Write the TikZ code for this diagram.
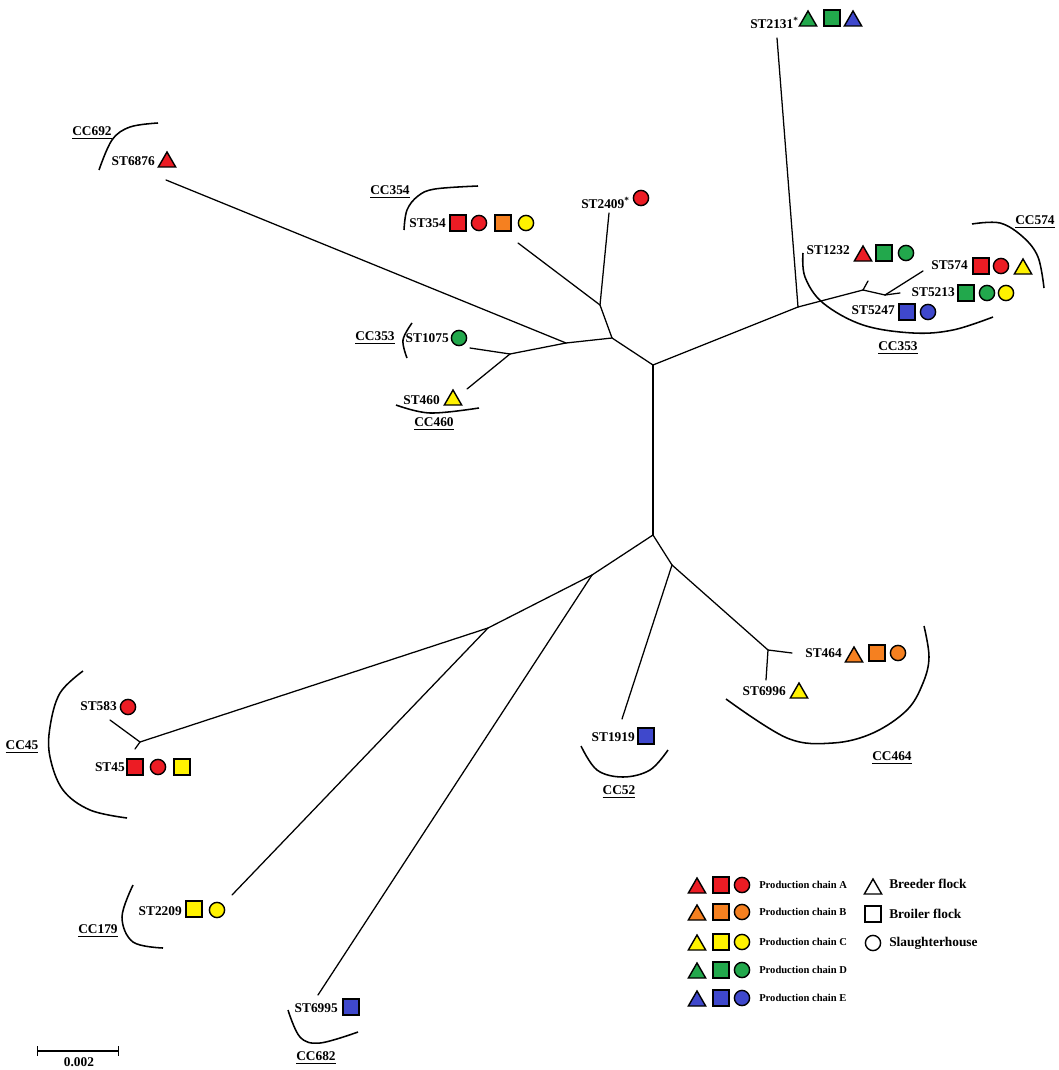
\documentclass[tikz,border=0pt]{standalone}
\usepackage{fontspec}
\setmainfont{Liberation Serif}
\usepackage{tkz-euclide}
\usetikzlibrary{shapes.geometric}
\definecolor{ChainA}{RGB}{236,28,36}
\definecolor{ChainB}{RGB}{245,128,32}
\definecolor{ChainC}{RGB}{255,242,0}
\definecolor{ChainD}{RGB}{34,168,76}
\definecolor{ChainE}{RGB}{63,72,204}
\tikzset{
  stlabel/.style={font=\fontsize{9.5}{11}\selectfont\bfseries,inner sep=0pt,anchor=east},
  cclabel/.style={font=\fontsize{9.5}{11}\selectfont\bfseries,inner sep=0pt},
  legtext/.style={font=\fontsize{7.5}{9}\selectfont\bfseries,inner sep=0pt,anchor=west},
  keytext/.style={font=\fontsize{9.5}{12}\selectfont\bfseries,inner sep=0pt,anchor=west},
  brd/.style={regular polygon,regular polygon sides=3,draw,line width=1pt,minimum size=0.5cm,inner sep=0pt,fill=#1},
  brl/.style={rectangle,draw,line width=1pt,minimum size=0.4cm,inner sep=0pt,fill=#1},
  slh/.style={circle,draw,line width=1pt,minimum size=0.38cm,inner sep=0pt,fill=#1},
  bracket/.style={line width=1.1pt,smooth,tension=0.6},
}

\begin{document}
\begin{tikzpicture}[x=0.025cm,y=-0.025cm]
\useasboundingbox (0,0) rectangle (1058,1070);

% tree: inner nodes
\tkzDefPoints{653/365/C1,653/535/C2,798/307/U1,863/290/U2,885/295/U3,
  612/338/L1,600/305/L2,566/343/L3,510/354/L4,
  592/575/D1,672/565/D2,768/650/D3,488/628/D4,140/742/D5}
% tree: branch ends
\tkzDefPoints{777/38/eA,868/281/eB,923/271/eC,900/293/eD,
  609/213/eE,518/243/eF,166/180/eG,470/348/eH,467/389/eI,
  622/719/eJ,792/653/eK,766/680/eL,318/995/eM,232/895/eN,110/720/eO,135/749/eP}
\tkzDrawSegments[line width=0.9pt](C1,C2 C1,U1 U1,eA U1,U2 U2,eB U2,U3 U3,eC U3,eD
  C1,L1 L1,L2 L2,eE L2,eF L1,L3 L3,eG L3,L4 L4,eH L4,eI
  C2,D1 C2,D2 D2,eJ D2,D3 D3,eK D3,eL D1,eM D1,D4 D4,eN D4,D5 D5,eO D5,eP)

% upper right
\node[stlabel] (st2131) at (799,23) {ST2131\textsuperscript{*}};
\node[brd=ChainD] (st2131a) at (808,21) {};
\node[brl=ChainD] (st2131b) at (832,18) {};
\node[brd=ChainE] (st2131c) at (853,21) {};

\node[stlabel] (st1232) at (850,250) {ST1232};
\node[brd=ChainA] (st1232a) at (863,256) {};
\node[brl=ChainD] (st1232b) at (884,253) {};
\node[slh=ChainD] (st1232c) at (906,253) {};

\node[stlabel] (st574) at (968,265) {ST574};
\node[brl=ChainA] (st574a) at (981,266) {};
\node[slh=ChainA] (st574b) at (1001,266) {};
\node[brd=ChainC] (st574c) at (1023,269) {};

\node[stlabel] (st5213) at (955,292) {ST5213};
\node[brl=ChainD] (st5213a) at (966,293) {};
\node[slh=ChainD] (st5213b) at (987,293) {};
\node[slh=ChainC] (st5213c) at (1006,293) {};

\node[stlabel] (st5247) at (895,310) {ST5247};
\node[brl=ChainE] (st5247a) at (907,312) {};
\node[slh=ChainE] (st5247b) at (928,312) {};

\draw[bracket] plot coordinates {(803,253) (805,277) (823,303) (863,325) (913,333) (953,330) (993,317)};
\draw[bracket] plot coordinates {(972,224) (1000,223) (1023,237) (1038,257) (1044,288)};
\node[cclabel] (cc353b) at (898,348) {\underline{CC353}};
\node[cclabel] (cc574) at (1035,222) {\underline{CC574}};

% upper left
\node[stlabel] (st6876) at (155,161) {ST6876};
\node[brd=ChainA] (st6876a) at (167,162) {};
\draw[bracket] plot coordinates {(99,170) (112,140) (130,127) (158,123)};
\node[cclabel] (cc692) at (92,133) {\underline{CC692}};

\node[stlabel] (st354) at (446,223) {ST354};
\node[brl=ChainA] (st354a) at (458,223) {};
\node[slh=ChainA] (st354b) at (479,223) {};
\node[brl=ChainB] (st354c) at (503,223) {};
\node[slh=ChainC] (st354d) at (526,223) {};
\draw[bracket] plot coordinates {(404,230) (407,210) (418,196) (435,189) (478,186)};
\node[cclabel] (cc354) at (390,192) {\underline{CC354}};

\node[stlabel] (st2409) at (630,203) {ST2409\textsuperscript{*}};
\node[slh=ChainA] (st2409a) at (641,198) {};

\node[stlabel] (st1075) at (449,338) {ST1075};
\node[slh=ChainD] (st1075a) at (459,338) {};
\draw[bracket] plot coordinates {(412,323) (403,340) (407,358)};
\node[cclabel] (cc353a) at (375,338) {\underline{CC353}};

\node[stlabel] (st460) at (440,400) {ST460};
\node[brd=ChainC] (st460a) at (453,400) {};
\draw[bracket] plot coordinates {(396,405) (430,413) (479,408)};
\node[cclabel] (cc460) at (434,424) {\underline{CC460}};

% lower part
\node[stlabel] (st583) at (117,706) {ST583};
\node[slh=ChainA] (st583a) at (128,707) {};
\node[stlabel] (st45) at (125,767) {ST45};
\node[brl=ChainA] (st45a) at (135,767) {};
\node[slh=ChainA] (st45b) at (158,767) {};
\node[brl=ChainC] (st45c) at (182,767) {};
\draw[bracket] plot coordinates {(83,671) (60,693) (50,727) (50,757) (63,790) (90,810) (127,818)};
\node[cclabel] (cc45) at (22,747) {\underline{CC45}};

\node[stlabel] (st1919) at (635,737) {ST1919};
\node[brl=ChainE] (st1919a) at (646,736) {};
\draw[bracket] plot coordinates {(581,746) (597,770) (623,777) (650,770) (668,750)};
\node[cclabel] (cc52) at (619,792) {\underline{CC52}};

\node[stlabel] (st464) at (842,653) {ST464};
\node[brd=ChainB] (st464a) at (854,657) {};
\node[brl=ChainB] (st464b) at (877,653) {};
\node[slh=ChainB] (st464c) at (898,653) {};
\node[stlabel] (st6996) at (786,691) {ST6996};
\node[brd=ChainC] (st6996a) at (799,693) {};
\draw[bracket] plot coordinates {(726,699) (787,738) (833,743) (873,733) (907,710) (923,683) (929,657) (924,626)};
\node[cclabel] (cc464) at (892,758) {\underline{CC464}};

\node[stlabel] (st2209) at (182,911) {ST2209};
\node[brl=ChainC] (st2209a) at (194,909) {};
\node[slh=ChainC] (st2209b) at (217,910) {};
\draw[bracket] plot coordinates {(133,885) (122,917) (133,942) (163,948)};
\node[cclabel] (cc179) at (98,931) {\underline{CC179}};

\node[stlabel] (st6995) at (338,1008) {ST6995};
\node[brl=ChainE] (st6995a) at (351,1007) {};
\draw[bracket] plot coordinates {(288,1010) (300,1037) (320,1043) (358,1032)};
\node[cclabel] (cc682) at (316,1058) {\underline{CC682}};

% scale bar
\coordinate (sb1) at (37,1051);
\coordinate (sb2) at (119,1051);
\draw[line width=0.9pt,|-|] (sb1) -- (sb2);
\node[cclabel] (sbtext) at (79,1062) {0.002};

% legend
\foreach \clr/\ch/\yy in {ChainA/A/885,ChainB/B/912,ChainC/C/942,ChainD/D/970,ChainE/E/998}{
  \node[brd=\clr] (lgbrd\ch) at (697,\yy+3) {};
  \node[brl=\clr] (lgbrl\ch) at (721,\yy) {};
  \node[slh=\clr] (lgslh\ch) at (742,\yy) {};
  \node[legtext] (lgtxt\ch) at (759,\yy) {Production chain \ch};
}
\node[brd=white] (keybrd) at (873,889) {};
\node[brl=white] (keybrl) at (873,914) {};
\node[slh=white] (keyslh) at (873,943) {};
\node[keytext] (keybrdtxt) at (889,884) {Breeder flock};
\node[keytext] (keybrltxt) at (889,914) {Broiler flock};
\node[keytext] (keyslhtxt) at (889,943) {Slaughterhouse};

\end{tikzpicture}
\end{document}
